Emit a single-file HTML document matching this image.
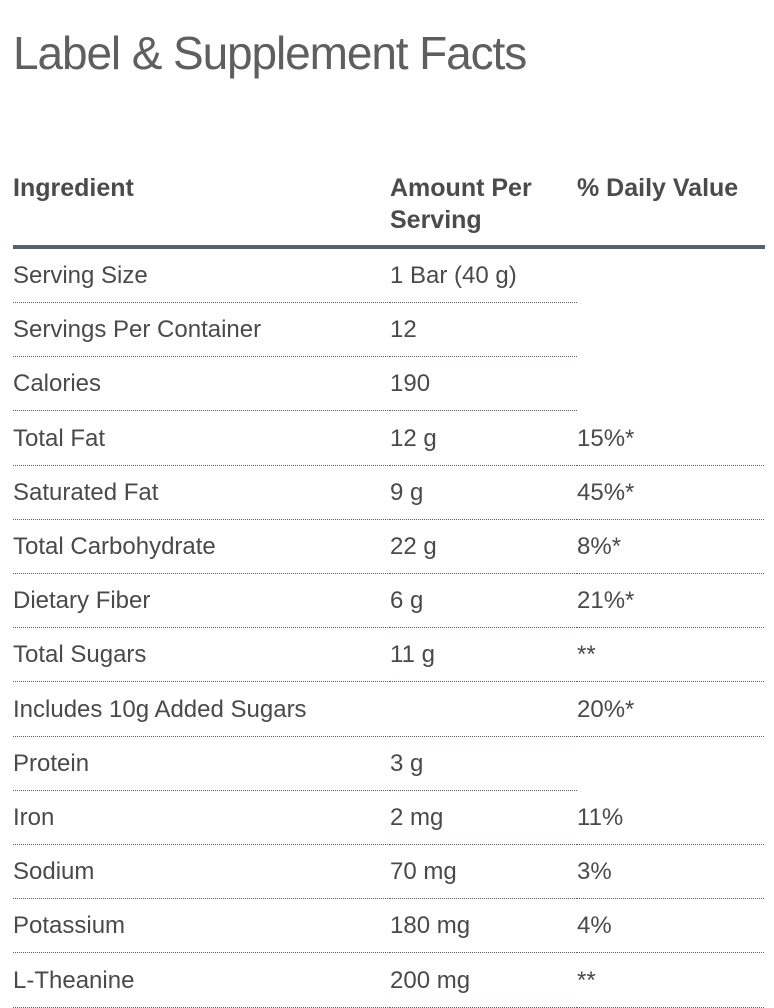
<!DOCTYPE html>
<html>
<head>
<meta charset="utf-8">
<style>
  html, body { margin:0; padding:0; background:#fff; }
  body { width:774px; height:1004px; position:relative; overflow:hidden;
         font-family:"Liberation Sans", Arial, sans-serif; color:#4a4a4a; }
  .title { position:absolute; left:13px; top:30px; font-size:46px; line-height:46px;
           letter-spacing:-1.1px; color:#5f5f5f; white-space:nowrap; font-weight:normal; }
  .head { position:absolute; left:13px; top:172px; width:752px; height:73px;
          border-bottom:4px solid #56626c; display:flex; }
  .head div { font-weight:bold; font-size:25px; line-height:32px; color:#4b4b4b; white-space:nowrap; }
  .c1 { width:377px; }
  .c2 { width:187px; }
  .c3 { width:188px; }
  .row { position:absolute; left:13px; width:752px; display:flex; height:54px; }
  .row > div { box-sizing:border-box; height:54px; font-size:24px; line-height:53px;
               white-space:nowrap;
               background-image:repeating-linear-gradient(to right, #56626c 0, #56626c 1px, transparent 1px, transparent 2px);
               background-size:100% 1px; background-repeat:no-repeat; background-position:left bottom; }
  .row > div.nb { background:none; }
</style>
</head>
<body>
  <div class="title">Label &amp; Supplement Facts</div>

  <div class="head">
    <div class="c1">Ingredient</div>
    <div class="c2">Amount Per<br>Serving</div>
    <div class="c3">% Daily Value</div>
  </div>

  <div class="row" style="top:249px"><div class="c1">Serving Size</div><div class="c2">1 Bar (40 g)</div><div class="c3 nb"></div></div>
  <div class="row" style="top:303px"><div class="c1">Servings Per Container</div><div class="c2">12</div><div class="c3 nb"></div></div>
  <div class="row" style="top:357px"><div class="c1">Calories</div><div class="c2">190</div><div class="c3 nb"></div></div>
  <div class="row" style="top:412px"><div class="c1">Total Fat</div><div class="c2">12 g</div><div class="c3">15%*</div></div>
  <div class="row" style="top:466px"><div class="c1">Saturated Fat</div><div class="c2">9 g</div><div class="c3">45%*</div></div>
  <div class="row" style="top:520px"><div class="c1">Total Carbohydrate</div><div class="c2">22 g</div><div class="c3">8%*</div></div>
  <div class="row" style="top:574px"><div class="c1">Dietary Fiber</div><div class="c2">6 g</div><div class="c3">21%*</div></div>
  <div class="row" style="top:628px"><div class="c1">Total Sugars</div><div class="c2">11 g</div><div class="c3">**</div></div>
  <div class="row" style="top:683px"><div class="c1">Includes 10g Added Sugars</div><div class="c2"></div><div class="c3">20%*</div></div>
  <div class="row" style="top:737px"><div class="c1">Protein</div><div class="c2">3 g</div><div class="c3 nb"></div></div>
  <div class="row" style="top:791px"><div class="c1">Iron</div><div class="c2">2 mg</div><div class="c3">11%</div></div>
  <div class="row" style="top:845px"><div class="c1">Sodium</div><div class="c2">70 mg</div><div class="c3">3%</div></div>
  <div class="row" style="top:899px"><div class="c1">Potassium</div><div class="c2">180 mg</div><div class="c3">4%</div></div>
  <div class="row" style="top:954px"><div class="c1">L-Theanine</div><div class="c2">200 mg</div><div class="c3">**</div></div>
</body>
</html>
